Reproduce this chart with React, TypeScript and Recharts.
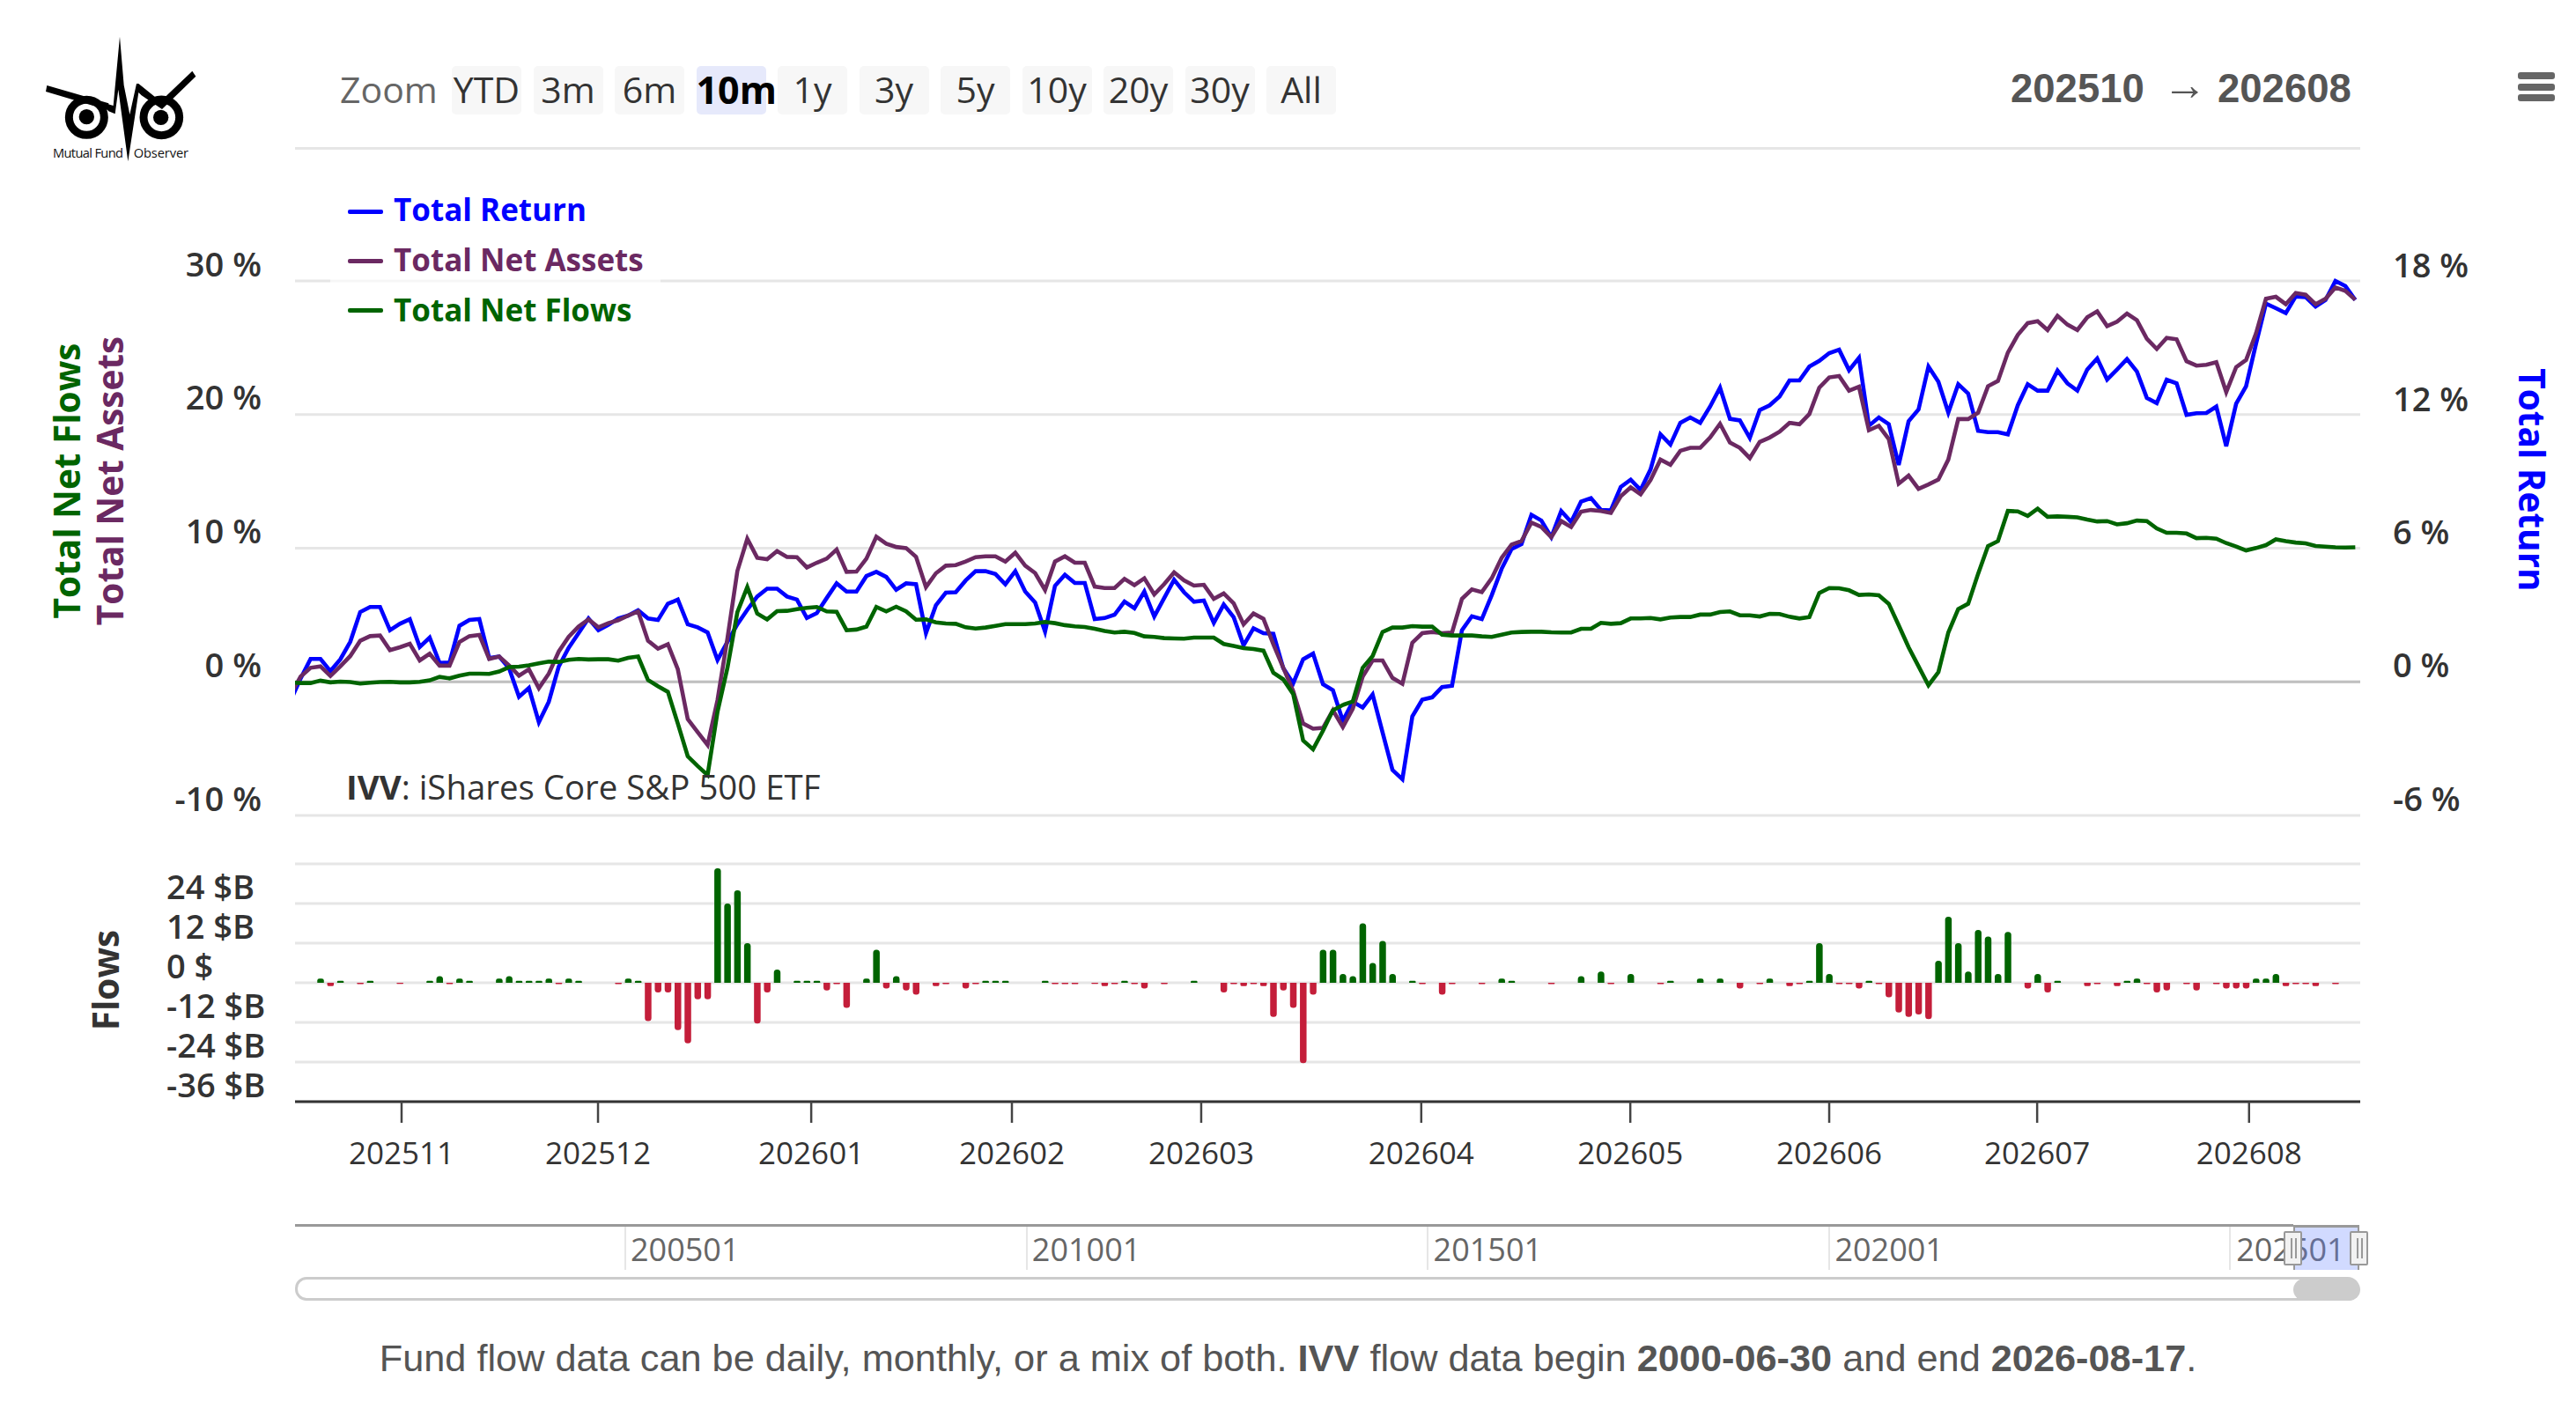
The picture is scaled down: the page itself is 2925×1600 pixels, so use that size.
import { ComposedChart, BarChart, Line, Bar, Cell, XAxis, YAxis, CartesianGrid, ReferenceLine } from "recharts";

// one entry per trading day, 202510 -> 202608
const totalReturn = [
  -0.82, 0.17, 1.05, 1.05, 0.5, 1.03, 1.82, 3.16, 3.39, 3.39,
  2.34, 2.63, 2.84, 1.59, 2.01, 0.87, 0.89, 2.54, 2.8, 2.84,
  1.09, 1.16, 0.63, -0.66, -0.26, -1.8, -0.88, 0.7, 1.55, 2.21,
  2.87, 2.34, 2.58, 2.87, 3.0, 3.24, 2.87, 2.8, 3.53, 3.72,
  2.61, 2.47, 2.24, 1.0, 1.82, 2.61, 3.26, 3.86, 4.21, 4.21,
  3.86, 3.72, 2.89, 3.11, 3.79, 4.45, 4.08, 4.08, 4.78, 4.97,
  4.74, 4.16, 4.45, 4.41, 2.21, 3.46, 4.03, 4.05, 4.58, 5.0,
  5.0, 4.87, 4.41, 5.0, 4.08, 3.59, 2.28, 4.34, 4.84, 4.47,
  4.47, 2.84, 2.89, 3.04, 3.63, 3.33, 4.08, 2.96, 3.79, 4.61,
  4.05, 3.62, 3.68, 2.67, 3.5, 2.93, 1.66, 2.43, 2.21, 2.18,
  0.63, -0.05, 1.03, 1.29, -0.09, -0.36, -1.74, -0.88, -1.14, -0.55,
  -2.26, -3.95, -4.37, -1.54, -0.79, -0.68, -0.22, -0.16, 2.34, 2.97,
  2.84, 3.92, 5.11, 6.0, 6.22, 7.54, 7.28, 6.53, 7.71, 7.21,
  8.13, 8.29, 7.76, 7.74, 8.79, 9.12, 8.66, 9.58, 11.16, 10.7,
  11.68, 11.92, 11.68, 12.41, 13.26, 11.86, 11.79, 11.0, 12.25, 12.47,
  12.87, 13.59, 13.59, 14.21, 14.47, 14.82, 14.97, 14.05, 14.61, 11.55,
  11.92, 11.62, 9.78, 11.75, 12.28, 14.21, 13.53, 12.14, 13.42, 13.0,
  11.32, 11.26, 11.26, 11.16, 12.47, 13.42, 13.13, 13.13, 14.03, 13.46,
  13.13, 14.08, 14.58, 13.63, 14.08, 14.55, 13.99, 12.8, 12.57, 13.62,
  13.46, 12.04, 12.11, 12.12, 12.41, 10.63, 12.54, 13.33, 15.24, 17.05,
  16.84, 16.62, 17.37, 17.34, 16.92, 17.21, 18.07, 17.84, 17.21,
];

const totalNetAssets = [
  -0.92, 0.39, 1.05, 1.16, 0.44, 1.16, 1.93, 3.07, 3.42, 3.47,
  2.37, 2.59, 2.85, 1.6, 2.11, 1.21, 1.21, 2.98, 3.42, 3.51,
  1.71, 1.89, 1.23, 0.46, 0.94, -0.48, 0.61, 2.26, 3.36, 4.13,
  4.67, 4.08, 4.39, 4.61, 4.96, 5.27, 3.07, 2.48, 2.81, 0.94,
  -2.79, -3.77, -4.72, -1.36, 3.25, 8.29, 10.71, 9.28, 9.17, 9.79,
  9.35, 9.33, 8.56, 8.91, 9.22, 9.9, 8.23, 8.25, 9.22, 10.86,
  10.34, 10.09, 10.01, 9.35, 7.09, 8.12, 8.69, 8.73, 9.0, 9.33,
  9.39, 9.39, 9.0, 9.66, 8.69, 8.14, 6.87, 9.0, 9.39, 8.91,
  8.91, 7.13, 7.02, 7.02, 7.7, 7.24, 7.75, 6.54, 7.31, 8.19,
  7.59, 7.2, 7.26, 6.21, 6.61, 5.88, 4.3, 5.11, 4.72, 2.81,
  1.05, -0.7, -3.12, -3.51, -3.45, -2.13, -3.38, -2.02, 0.39, 1.6,
  1.6, 0.29, -0.15, 2.92, 3.64, 3.73, 3.64, 3.69, 6.21, 6.91,
  6.71, 7.75, 9.28, 10.27, 10.53, 11.92, 11.59, 10.82, 12.03, 11.59,
  12.73, 12.86, 12.79, 12.64, 13.89, 14.55, 14.04, 15.1, 16.63, 16.24,
  17.29, 17.51, 17.51, 18.28, 19.31, 17.91, 17.51, 16.74, 17.95, 18.28,
  18.72, 19.38, 19.27, 20.04, 22.01, 22.78, 22.89, 21.79, 22.08, 18.83,
  19.16, 18.17, 14.83, 15.43, 14.44, 14.77, 15.14, 16.63, 19.66, 19.66,
  20.14, 22.12, 22.51, 24.64, 25.96, 26.84, 26.99, 26.33, 27.39, 26.73,
  26.33, 27.28, 27.72, 26.62, 26.95, 27.56, 27.06, 25.67, 24.91, 25.74,
  25.63, 23.99, 23.66, 23.72, 23.92, 21.68, 23.55, 24.09, 26.07, 28.66,
  28.81, 28.26, 29.1, 28.97, 28.26, 28.66, 29.51, 29.25, 28.59,
];

const totalNetFlows = [
  -0.04, -0.09, -0.09, 0.09, -0.04, 0.02, -0.02, -0.13, -0.07, -0.02,
  0, -0.04, -0.04, 0, 0.11, 0.37, 0.26, 0.46, 0.61, 0.61,
  0.59, 0.77, 1.1, 1.14, 1.23, 1.38, 1.51, 1.49, 1.65, 1.71,
  1.67, 1.69, 1.69, 1.58, 1.8, 1.89, 0.13, -0.33, -0.75, -3.12,
  -5.57, -6.3, -6.98, -2.24, 1.05, 5.22, 7.09, 5.11, 4.67, 5.29,
  5.31, 5.44, 5.53, 5.6, 5.27, 5.24, 3.86, 3.91, 4.13, 5.6,
  5.27, 5.62, 5.27, 4.65, 4.67, 4.45, 4.37, 4.34, 4.08, 3.99,
  4.06, 4.19, 4.32, 4.32, 4.32, 4.37, 4.48, 4.39, 4.24, 4.15,
  4.1, 3.97, 3.8, 3.69, 3.75, 3.66, 3.4, 3.36, 3.27, 3.25,
  3.23, 3.31, 3.31, 3.31, 2.83, 2.68, 2.52, 2.46, 2.33, 0.68,
  0.18, -0.92, -4.39, -5.05, -3.66, -2.13, -1.73, -1.47, 1.05, 1.93,
  3.73, 4.06, 4.06, 4.17, 4.13, 4.13, 3.53, 3.47, 3.47, 3.47,
  3.4, 3.36, 3.53, 3.69, 3.73, 3.75, 3.75, 3.71, 3.69, 3.69,
  3.97, 3.97, 4.41, 4.34, 4.39, 4.74, 4.74, 4.78, 4.67, 4.81,
  4.85, 4.85, 5.03, 5.03, 5.22, 5.27, 4.98, 4.98, 4.89, 5.09,
  5.07, 4.87, 4.74, 4.85, 6.65, 7.02, 7.0, 6.85, 6.5, 6.54,
  6.47, 5.84, 4.24, 2.59, 1.16, -0.26, 0.72, 3.69, 5.44, 5.84,
  8.08, 10.16, 10.53, 12.79, 12.75, 12.42, 12.95, 12.35, 12.38, 12.35,
  12.31, 12.14, 12.0, 12.03, 11.78, 11.87, 12.07, 12.03, 11.48, 11.15,
  11.15, 11.1, 10.75, 10.77, 10.71, 10.38, 10.12, 9.83, 10.01, 10.23,
  10.66, 10.53, 10.42, 10.36, 10.16, 10.12, 10.07, 10.05, 10.07,
];

// daily flows in $B
const dailyFlows = [
  0, 0, 0, 1.3, -1, 0.6, 0, -0.4, 0.6, 0,
  0, -0.3, 0, 0, 0.6, 2, -0.4, 1.3, 0.6, 0,
  0, 1.3, 2, 0.6, 0.6, 0.6, 1.3, -0.4, 1.3, 0.6,
  0, 0, 0, -0.4, 1.3, 0.6, -11.6, -2.9, -2.9, -14.3,
  -18.3, -5, -5, 34.7, 24, 28, 12, -12.3, -2.9, 4,
  0, 0.6, 0.6, 0.6, -2.3, -0.4, -7.6, 0, 1.3, 10,
  -1.7, 2, -2.3, -3.6, 0, -1, -0.4, 0, -1.7, -0.4,
  0.6, 0.6, 0.6, 0, 0, 0, 0.6, -0.4, -0.4, -0.4,
  0, -0.3, -1, -0.4, 0.6, -0.4, -1.7, 0, -0.4, 0,
  0, 0.6, 0, 0, -2.9, -0.4, -1, -0.4, -1, -10.3,
  -2.3, -7.6, -24.3, -3.6, 10, 10, 2.7, 2, 18, 6,
  12.7, 2.7, 0, 0.6, -0.4, 0, -3.6, -0.4, 0, 0,
  -0.4, 0, 1.3, 0.6, 0, 0, 0, -0.4, 0, 0,
  2, 0, 3.4, -0.4, 0, 2.7, 0, 0, -0.4, 0.6,
  0, 0, 1.3, 0, 1.3, 0, -1.7, 0, -0.4, 1.3,
  0, -1, -0.4, 0.6, 12, 2.7, -0.4, -0.4, -1.7, 0.6,
  -0.4, -4.4, -9, -10.3, -9.6, -11, 6.7, 20, 12, 3.4,
  16, 14, 2.7, 15.4, 0, -1.7, 2.7, -2.9, 0.6, 0,
  0, -1, -0.4, 0, -1, 0.6, 1.3, -0.4, -2.9, -2.3,
  0, -0.4, -2.3, 0, -0.4, -1.7, -1.7, -1.7, 1.3, 1.3,
  2.7, -1, -0.4, -0.4, -1, 0, -0.4, 0, 0,
];

const monthLabels = ["202511", "202512", "202601", "202602", "202603", "202604", "202605", "202606", "202607", "202608"];
const monthTicks = [11.17, 30.96, 52.44, 72.66, 91.73, 113.9, 134.96, 155.0, 175.95, 197.3];
const leftTicks = [-10, 0, 10, 20, 30];
const rightTicks = [-6, 0, 6, 12, 18];
const flowTicks = [-36, -24, -12, 0, 12, 24, 36];
const zoomButtons = ["YTD", "3m", "6m", "10m", "1y", "3y", "5y", "10y", "20y", "30y", "All"];
const navigatorLabels = ["200501", "201001", "201501", "202001", "202501"];

const BLUE = "#0000ff";
const PURPLE = "#6b2962";
const GREEN = "#006400";
const RED = "#c41e3a";
const SANS = "'Open Sans', sans-serif";
const ARIAL = "'Liberation Sans', Arial, sans-serif";

// visible part of the ordinal axis
const X_DOMAIN: [number, number] = [0.435, 208.5];

const rows = totalReturn.map((v, i) => ({
  day: i,
  totalReturn: v,
  totalNetAssets: totalNetAssets[i],
  totalNetFlows: totalNetFlows[i],
}));
const flowRows = dailyFlows.map((v, i) => ({ day: i, flow: v }));

const legendItems = [
  { name: "Total Return", color: BLUE },
  { name: "Total Net Assets", color: PURPLE },
  { name: "Total Net Flows", color: GREEN },
];

const abs = (left: number, top: number, extra: React.CSSProperties = {}): React.CSSProperties => ({
  position: "absolute",
  left,
  top,
  whiteSpace: "nowrap",
  ...extra,
});

const Logo = () => (
  <svg style={abs(40, 30)} width={200} height={160} viewBox="0 0 600 480">
    <circle cx={175} cy={310} r={60} fill="none" stroke="#000" strokeWidth={27} />
    <circle cx={175} cy={308} r={26} fill="#000" />
    <circle cx={430} cy={310} r={61} fill="none" stroke="#000" strokeWidth={27} />
    <circle cx={428} cy={310} r={26} fill="#000" />
    <polygon points="40,201 250,262 250,286 36,222" fill="#000" />
    <polygon points="535,152 547,170 432,282 424,258" fill="#000" />
    <polygon
      fill="#000"
      points="248,265 266,270 288,35 302,200 322,300 345,195 352,195 430,258 432,282 362,235 352,225 316,460 283,215 272,298 248,288"
    />
    <text x={60} y={448} fontFamily={SANS} fontSize={44} textLength={240} fill="#111">Mutual Fund</text>
    <text x={335} y={448} fontFamily={SANS} fontSize={44} textLength={187} fill="#111">Observer</text>
  </svg>
);

const Toolbar = () => (
  <>
    <div style={abs(386, 73, { font: `41px ${SANS}`, color: "#666", lineHeight: "56px" })}>Zoom</div>
    {zoomButtons.map((b, i) => (
      <div
        key={b}
        style={abs(513 + i * 92.5, 75, {
          width: 79,
          height: 55,
          borderRadius: 5,
          background: b === "10m" ? "#e6e9fb" : "#f7f7f7",
          textAlign: "center",
          font: `${b === "10m" ? 700 : 400} ${b === "10m" ? 43 : 41}px/53px ${SANS}`,
          color: b === "10m" ? "#000" : "#333",
        })}
      >
        {b}
      </div>
    ))}
    <div style={abs(2283, 76, { font: `700 45.5px/50px ${ARIAL}`, color: "#555" })}>202510</div>
    <div style={abs(2456, 71, { font: `400 50px/50px ${ARIAL}`, color: "#555" })}>→</div>
    <div style={abs(2518, 76, { font: `700 45.5px/50px ${ARIAL}`, color: "#555" })}>202608</div>
    {[82, 95, 107].map((t) => (
      <div key={t} style={abs(2859, t, { width: 42, height: 8, borderRadius: 3, background: "#666" })} />
    ))}
    <div style={abs(335, 167, { width: 2345, height: 3, background: "#e6e6e6" })} />
  </>
);

const ChartLegend = () => (
  <>
    <div style={abs(375, 210, { width: 375, height: 165, background: "rgba(255,255,255,0.65)" })} />
    {legendItems.map((s, i) => (
      <div key={s.name}>
        <div style={abs(395, 238 + i * 56, { width: 40, height: 5, background: s.color, borderRadius: 2 })} />
        <div style={abs(447, 213 + i * 57, { font: `700 35px/50px ${SANS}`, color: s.color })}>{s.name}</div>
      </div>
    ))}
  </>
);

const rotated = (text: string, cx: number, cy: number, color: string, deg: number) => (
  <div
    style={abs(cx, cy, {
      transform: `translate(-50%, -50%) rotate(${deg}deg)`,
      font: `700 40.5px/50px ${SANS}`,
      color,
    })}
  >
    {text}
  </div>
);

const Navigator = () => (
  <>
    {navigatorLabels.map((l, i) => (
      <div key={l}>
        <div style={abs(709 + i * 455.5, 1391, { width: 2, height: 51, background: "#e6e6e6" })} />
        <div style={abs(716 + i * 455.8, 1394, { font: `36px/50px ${SANS}`, color: "#666" })}>{l}</div>
      </div>
    ))}
    <div style={abs(335, 1390, { width: 2269, height: 3, background: "#999" })} />
    <div style={abs(2604, 1391, { width: 75, height: 51, background: "rgba(102,133,255,0.3)", borderTop: "3px solid #999", borderLeft: "2px solid #999", borderRight: "2px solid #999", boxSizing: "border-box" })} />
    {[2593, 2668].map((x) => (
      <div key={x} style={abs(x, 1398, { width: 21, height: 39, background: "#f2f2f2", border: "2px solid #999", boxSizing: "border-box", borderRadius: 2 })}>
        <div style={abs(6, 6, { width: 2, height: 23, background: "#999" })} />
        <div style={abs(11, 6, { width: 2, height: 23, background: "#999" })} />
      </div>
    ))}
    <div style={abs(335, 1450, { width: 2344, height: 27, border: "3px solid #ccc", boxSizing: "border-box", borderRadius: 13 })} />
    <div style={abs(2604, 1452, { width: 76, height: 25, background: "#ccc", borderRadius: 13 })} />
  </>
);

export default function App() {
  return (
    <div style={{ position: "absolute", left: 0, top: 0, width: 2925, height: 1600, background: "#fff", overflow: "hidden" }}>
      {/* returns / assets / flows panel */}
      <div style={abs(0, 0)}>
        <ComposedChart width={2925} height={1000} data={rows} margin={{ top: 319, right: 165, bottom: 74, left: 255 }}>
          <CartesianGrid vertical={false} yAxisId="left" stroke="#e6e6e6" strokeWidth={3} />
          <XAxis dataKey="day" type="number" domain={X_DOMAIN} allowDataOverflow hide />
          <YAxis
            yAxisId="left"
            width={80}
            domain={[-10, 30]}
            ticks={leftTicks}
            axisLine={false}
            tickLine={false}
            tick={(p: any) => (
              <text x={297} y={p.y - 19} dy="0.36em" textAnchor="end" fontFamily={SANS} fontWeight={600} fontSize={38} fill="#333">
                {p.payload.value} %
              </text>
            )}
          />
          <YAxis
            yAxisId="right"
            orientation="right"
            width={80}
            domain={[-6, 18]}
            ticks={rightTicks}
            axisLine={false}
            tickLine={false}
            tick={(p: any) => (
              <text x={2717} y={p.y - 19} dy="0.36em" textAnchor="start" fontFamily={SANS} fontWeight={600} fontSize={38} fill="#333">
                {p.payload.value} %
              </text>
            )}
          />
          <ReferenceLine yAxisId="left" y={0} stroke="#c0c0c0" strokeWidth={3} />
          <Line yAxisId="right" dataKey="totalReturn" stroke={BLUE} strokeWidth={4.6} dot={false} isAnimationActive={false} />
          <Line yAxisId="left" dataKey="totalNetAssets" stroke={PURPLE} strokeWidth={4.6} dot={false} isAnimationActive={false} />
          <Line yAxisId="left" dataKey="totalNetFlows" stroke={GREEN} strokeWidth={4.6} dot={false} isAnimationActive={false} />
        </ComposedChart>
      </div>

      {/* daily flows panel */}
      <div style={abs(0, 960)}>
        <BarChart width={2925} height={400} data={flowRows} margin={{ top: 21, right: 245, bottom: 9, left: 255 }} barSize={7.5}>
          <CartesianGrid vertical={false} stroke="#e6e6e6" strokeWidth={3} />
          <XAxis
            dataKey="day"
            type="number"
            domain={X_DOMAIN}
            allowDataOverflow
            height={100}
            ticks={monthTicks}
            interval={0}
            axisLine={{ stroke: "#333", strokeWidth: 3 }}
            tickLine={{ stroke: "#444", strokeWidth: 2.5 }}
            tickSize={24}
            tick={(p: any) => (
              <text x={p.x} y={p.y + 32} dy="0.36em" textAnchor="middle" fontFamily={SANS} fontSize={35} fill="#333">
                {monthLabels[p.index]}
              </text>
            )}
          />
          <YAxis
            width={80}
            domain={[-36, 36]}
            ticks={flowTicks}
            axisLine={false}
            tickLine={false}
            tick={(p: any) =>
              p.payload.value === 36 ? (
                <g />
              ) : (
                <text x={189} y={p.y - 19} dy="0.36em" textAnchor="start" fontFamily={SANS} fontWeight={600} fontSize={38} fill="#333">
                  {p.payload.value === 0 ? "0 $" : `${p.payload.value} $B`}
                </text>
              )
            }
          />
          <Bar dataKey="flow" radius={[3.5, 3.5, 0, 0]} isAnimationActive={false}>
            {flowRows.map((r) => (
              <Cell key={r.day} fill={r.flow < 0 ? RED : GREEN} />
            ))}
          </Bar>
        </BarChart>
      </div>

      <Logo />
      <Toolbar />
      <ChartLegend />
      {rotated("Total Net Flows", 76, 546, GREEN, -90)}
      {rotated("Total Net Assets", 125, 546, PURPLE, -90)}
      {rotated("Total Return", 2875, 545, BLUE, 90)}
      {rotated("Flows", 120, 1113, "#333", -90)}
      <div style={abs(393, 868, { font: `38.4px/50px ${SANS}`, color: "#333" })}>
        <b>IVV</b>: iShares Core S&amp;P 500 ETF
      </div>
      <Navigator />
      <div style={abs(0, 1517, { width: 2925, textAlign: "center", font: `43.3px/50px ${ARIAL}`, color: "#555" })}>
        Fund flow data can be daily, monthly, or a mix of both. <b>IVV</b> flow data begin <b>2000-06-30</b> and end <b>2026-08-17</b>.
      </div>
    </div>
  );
}
